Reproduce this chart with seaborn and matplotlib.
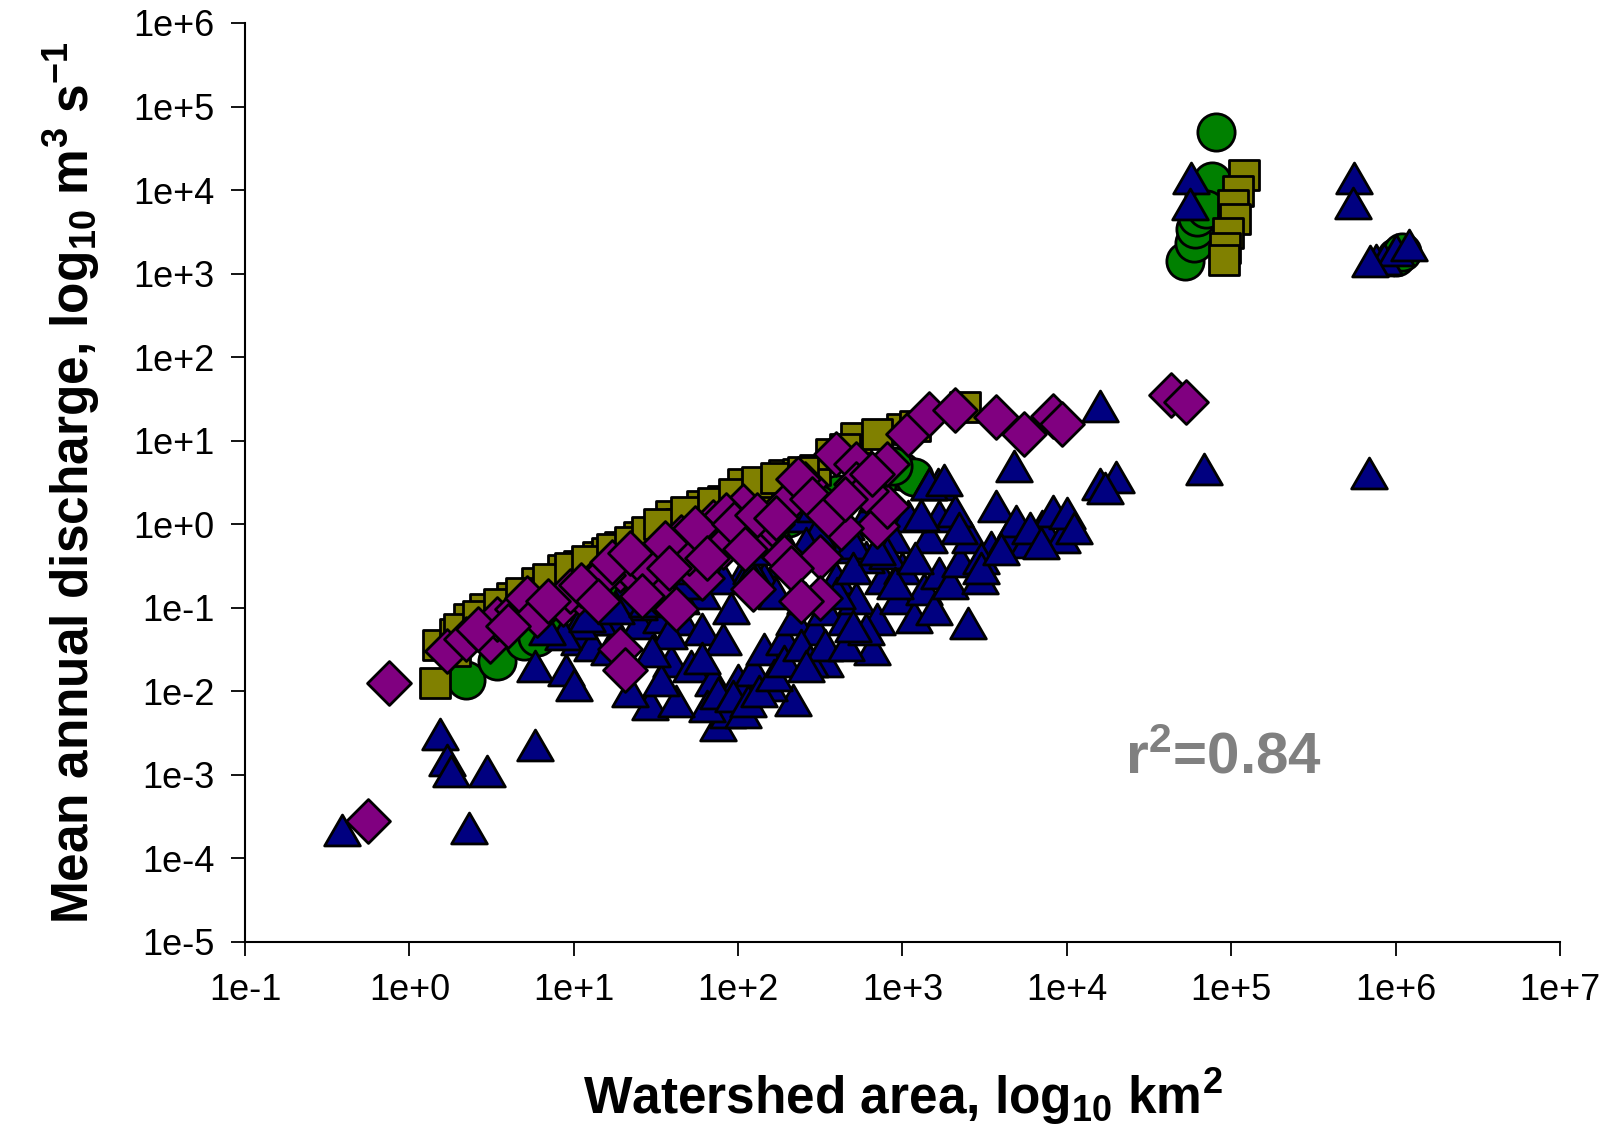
import numpy as np
import pandas as pd
import matplotlib
matplotlib.use("Agg")
import matplotlib.pyplot as plt
import seaborn as sns
from matplotlib.path import Path
from matplotlib.ticker import FixedLocator, NullLocator

# ---------------- data ----------------
circle_area = [2.2, 3.4, 7.1, 5.0, 12, 30, 60, 150, 405, 810, 980, 1180,
               6, 18, 40, 100, 200, 300, 700, 880,
               5.2e4, 5.9e4, 6.0e4, 6.2e4, 6.8e4, 7.6e4, 8.1e4, 7.0e4, 1.0e6, 1.1e6]
circle_q = [0.0135, 0.023, 0.055, 0.04, 0.1, 0.25, 0.5, 1.0, 2.3, 4.5, 4.4, 3.7,
            0.045, 0.2, 0.4, 0.9, 1.2, 1.8, 3.0, 5.0,
            1.4e3, 2.3e3, 3.4e3, 4.8e3, 8.3e3, 1.3e4, 5e4, 6e3, 1.6e3, 1.8e3]

square_area = [1.44, 1.5, 1.9, 2.3, 2.9, 4.2, 6, 8.6, 10.7, 14, 19, 25, 39, 60, 81,
               107, 190, 295, 365, 525, 1000, 2400, 3.0, 5.0, 12, 30, 50, 150, 1.9, 3.5,
               7.5, 16, 45, 70, 230,
               2.0, 2.6, 3.5, 4.8, 7, 9.5, 12, 17, 22, 28, 33, 48, 70, 95, 130, 170,
               250, 450, 700, 1200,
               1.2e5, 1.1e5, 1.02e5, 1.05e5, 9.5e4, 9.2e4, 9.0e4]
square_q = [0.0126, 0.036, 0.048, 0.074, 0.098, 0.13, 0.2, 0.28, 0.32, 0.41, 0.54, 0.71,
            1.25, 1.66, 1.9, 3, 3.9, 4.5, 6.9, 10.7, 14, 25, 0.06, 0.09, 0.25, 0.5, 0.9,
            2.2, 0.03, 0.07, 0.2, 0.45, 1.0, 1.5, 4.0,
            0.055, 0.08, 0.11, 0.15, 0.22, 0.3, 0.36, 0.5, 0.62, 0.8, 1.0, 1.4, 1.8,
            2.3, 3.2, 3.6, 4.2, 8, 12, 15,
            1.5e4, 9.8e3, 6.6e3, 4.5e3, 3.1e3, 2e3, 1.45e3]

tri_area = [0.39, 1.53, 1.7, 1.8, 2.97, 2.3, 5.8, 1.6e4, 6.8e4, 6.9e5,
            5.7e4, 5.6e4, 5.6e5, 5.5e5, 7.6e5, 8.5e5, 1.0e6, 1.2e6, 7.0e5,
            1.6e4, 2.0e4, 1.7e4, 4800, 1450, 1650, 2500, 216, 76, 29,
            5.8, 9, 10, 10.7, 13, 16.5, 22, 16.5, 25, 34, 39, 45, 52, 60, 70, 81,
            87, 107, 100, 124, 143, 155, 190, 220, 256, 295, 340, 340, 395, 455, 525,
            655, 705, 760, 940, 1000, 1170, 1350, 1550, 1660, 1950, 2240, 2570, 2950,
            3450, 3700, 4300, 4900, 5700, 7100, 8200, 9400, 1.0e4, 1450, 1660, 2100,
            1080, 870, 600, 455, 455, 340, 256, 190, 143, 107, 81, 60, 45, 25, 19, 14,
            10.7, 8.6, 6.9, 65, 75, 93, 115, 134, 165, 190, 240, 275, 340, 455, 600,
            42, 34, 295, 600, 705, 1450, 1780, 120, 200, 300, 500, 800, 3000, 6000,
            12, 18, 28, 38, 48, 55, 90, 120, 150, 170, 260, 400, 500, 700, 900, 1200,
            1300, 2200, 3000, 4000, 7000, 11000, 260, 500, 60, 30]
tri_q = [2.2e-4, 3.1e-3, 1.5e-3, 1.1e-3, 1.1e-3, 2.3e-4, 2.3e-3, 26, 4.6, 4.1,
         1.4e4, 6.8e3, 1.4e4, 7e3, 1.45e3, 1.5e3, 1.9e3, 2.2e3, 1.4e3,
         3.0, 3.7, 2.7, 5.0, 3.0, 3.0, 0.065, 7.8e-3, 4e-3, 7e-3,
         0.02, 0.018, 0.012, 0.042, 0.036, 0.032, 0.01, 0.074, 0.065, 0.078, 0.023,
         0.074, 0.02, 0.055, 0.0135, 0.042,
         0.0057, 0.0057, 0.0135, 0.018, 0.032, 0.012, 0.042, 0.074, 0.13, 0.055,
         0.023, 0.098, 0.23, 0.074, 0.13,
         0.032, 0.074, 0.23, 0.13, 0.3, 0.078, 0.17, 0.098, 0.26, 0.2, 0.36, 0.71,
         0.23, 0.54, 1.66, 0.71, 1.1, 0.62, 0.95, 1.45, 0.71, 1.37, 0.71, 1.25, 1.45,
         1.25, 0.71, 0.41, 1.0, 0.54, 0.71, 1.25, 0.36, 0.23, 0.26, 0.23, 0.15, 0.13,
         0.11, 0.13, 0.074, 0.065, 0.048, 0.055,
         0.0066, 0.0096, 0.0087, 0.0076, 0.01, 0.0155, 0.023, 0.036, 0.023, 0.036,
         0.036, 0.055, 0.0076, 0.0135, 1.66, 1.25, 2.2, 3.0, 3.4,
         0.3, 0.5, 0.8, 0.6, 0.45, 0.4, 0.9,
         0.08, 0.1, 0.12, 0.05, 0.2, 0.3, 0.1, 0.25, 0.5, 0.15, 0.6, 0.15, 0.3, 0.5,
         0.2, 0.4, 1.3, 0.9, 0.3, 0.5, 0.6, 0.9, 0.02, 0.06, 0.025, 0.03]

dia_area = [0.75, 0.56, 1.7, 2.2, 3.1, 3.4, 4.5, 5.2, 6, 8.6, 10.7, 13, 19, 19, 20.6,
            25, 32, 34, 45, 42, 60, 70, 81, 107, 124, 143, 190, 190, 256, 317, 317,
            395, 525, 525, 705, 810, 810, 1080, 1450, 2100, 3700, 5500, 8200, 9400,
            4.3e4, 5.3e4, 85, 50, 28, 15, 230, 420, 2.6, 9.5, 160, 600,
            4, 7, 11, 14, 17, 22, 26, 36, 38, 55, 65, 95, 110, 130, 170, 210, 280,
            350, 450, 650, 240]
dia_q = [0.0126, 2.8e-4, 0.03, 0.042, 0.04, 0.074, 0.098, 0.13, 0.081, 0.11, 0.15,
         0.2, 0.28, 0.032, 0.018, 0.23, 0.15, 0.41, 0.71, 0.098, 0.23, 1.06, 0.54,
         1.66, 0.17, 0.71, 1.66, 0.41, 3, 0.41, 0.13, 6.9, 5.2, 3, 0.95, 1.66, 5.2,
         12, 21, 23, 19, 12, 20, 16, 35, 29, 1.3, 0.45, 0.3, 0.25, 3.5, 0.9, 0.055,
         0.16, 1.0, 2.5,
         0.06, 0.12, 0.19, 0.12, 0.35, 0.45, 0.14, 0.6, 0.3, 0.9, 0.4, 1.0, 0.5,
         1.3, 1.2, 0.3, 2.0, 1.3, 2.0, 4.0, 0.12]

x_ticks = [1e-1, 1e0, 1e1, 1e2, 1e3, 1e4, 1e5, 1e6, 1e7]
x_labels = ["1e-1", "1e+0", "1e+1", "1e+2", "1e+3", "1e+4", "1e+5", "1e+6", "1e+7"]
y_ticks = [1e-5, 1e-4, 1e-3, 1e-2, 1e-1, 1e0, 1e1, 1e2, 1e3, 1e4, 1e5, 1e6]
y_labels = ["1e-5", "1e-4", "1e-3", "1e-2", "1e-1", "1e+0", "1e+1", "1e+2",
            "1e+3", "1e+4", "1e+5", "1e+6"]

# ---------------- style ----------------
sns.set_style("ticks")
plt.rcParams["font.family"] = ["Liberation Sans", "DejaVu Sans"]
plt.rcParams["mathtext.fontset"] = "custom"
plt.rcParams["mathtext.rm"] = "Liberation Sans:bold"
plt.rcParams["mathtext.bf"] = "Liberation Sans:bold"
plt.rcParams["mathtext.it"] = "Liberation Sans:bold"
plt.rcParams["text.color"] = "black"
plt.rcParams["axes.labelcolor"] = "black"
plt.rcParams["xtick.color"] = "black"
plt.rcParams["ytick.color"] = "black"

fig = plt.figure(figsize=(16.17, 11.33), dpi=100)
ax = fig.add_axes([0.1515, 0.1686, 0.8132, 0.8111])

tri = Path([(0, 0.866), (-1, -0.866), (1, -0.866), (0, 0.866)],
           [Path.MOVETO, Path.LINETO, Path.LINETO, Path.CLOSEPOLY])

ec = "black"
lw = 2.0
sns.scatterplot(x=circle_area, y=circle_q, marker="o", s=720, color="#008000",
                edgecolor=ec, linewidth=lw, ax=ax, zorder=3)
sns.scatterplot(x=tri_area, y=tri_q, marker=tri, s=660, color="#000080",
                edgecolor=ec, linewidth=lw, ax=ax, zorder=4)
sns.scatterplot(x=square_area, y=square_q, marker="s", s=480, color="#808000",
                edgecolor=ec, linewidth=lw, ax=ax, zorder=5)
sns.scatterplot(x=dia_area, y=dia_q, marker="D", s=500, color="#800080",
                edgecolor=ec, linewidth=lw, ax=ax, zorder=6)

ax.set_xscale("log")
ax.set_yscale("log")
ax.set_xlim(1e-1, 1e7)
ax.set_ylim(1e-5, 1e6)
ax.xaxis.set_major_locator(FixedLocator(x_ticks))
ax.yaxis.set_major_locator(FixedLocator(y_ticks))
ax.xaxis.set_minor_locator(NullLocator())
ax.yaxis.set_minor_locator(NullLocator())
ax.set_xticklabels(x_labels)
ax.set_yticklabels(y_labels)
ax.tick_params(axis="both", which="major", direction="out", length=10, width=1.3,
               labelsize=26, pad=12, colors="black")

for side in ["top", "right"]:
    ax.spines[side].set_visible(False)
for side in ["left", "bottom"]:
    ax.spines[side].set_linewidth(1.5)
    ax.spines[side].set_color("black")

ax.set_xlabel(r"Watershed area, log$_{10}$ km$^{2}$", fontsize=37,
              fontweight="bold", labelpad=42, color="black")
ax.set_ylabel(r"Mean annual discharge, log$_{10}$ m$^{3}$ s$^{-1}$", fontsize=37,
              fontweight="bold", labelpad=22, color="black")

ax.text(0.744, 0.20, r"r$^{2}$=0.84", transform=ax.transAxes, fontsize=42,
        fontweight="bold", color="#808080", ha="center", va="center")

fig.savefig("out.png", dpi=100)
